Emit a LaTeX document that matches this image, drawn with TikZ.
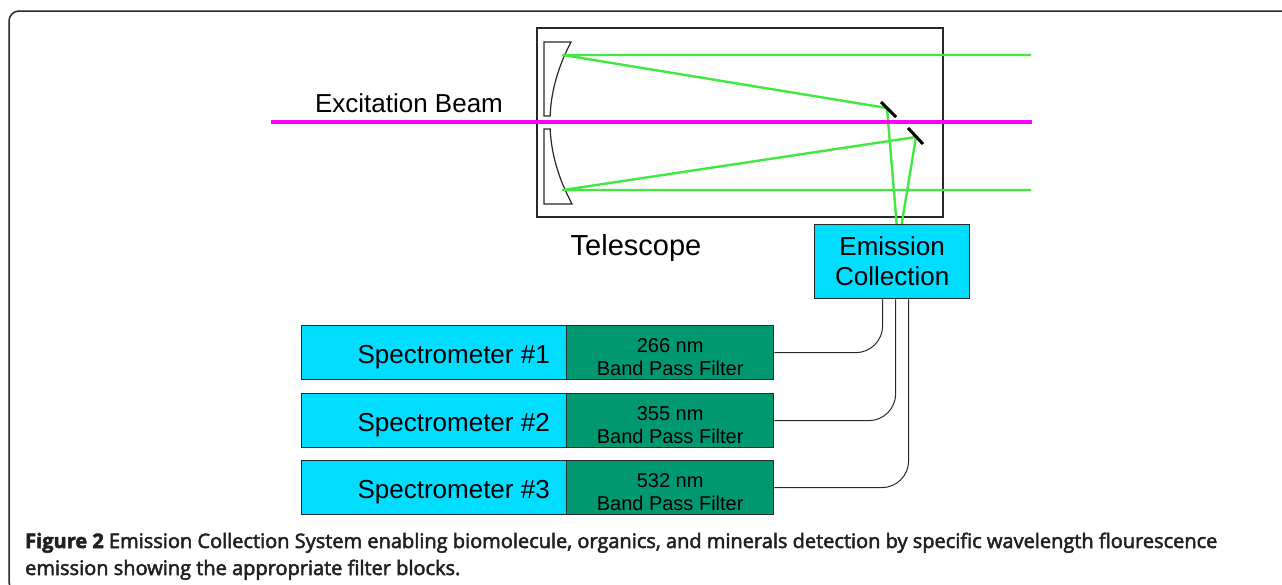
\documentclass[tikz,border=0pt]{standalone}
\usepackage{fontspec}
\setmainfont{Liberation Sans}
\newfontfamily\capfont[FakeStretch=1.0, FakeBold=2.5]{Open Sans}
\usetikzlibrary{positioning}
\definecolor{f2cyan}{RGB}{0,221,255}
\definecolor{f2green}{RGB}{0,152,112}
\definecolor{f2ray}{RGB}{64,232,64}
\definecolor{f2beam}{RGB}{255,0,255}
\definecolor{f2black}{RGB}{40,40,40}
\definecolor{f2text}{RGB}{35,31,32}

\begin{document}
\begin{tikzpicture}[x=1pt, y=-1pt,
  box/.style={draw=f2black, line width=1.3pt, inner sep=0pt, anchor=north west},
  spec/.style={box, fill=f2cyan, minimum width=304pt, minimum height=54pt, text height=21.4pt, text depth=0pt,
    font=\fontsize{26}{30}\selectfont},
  filt/.style={box, fill=f2green, minimum width=207pt, minimum height=54pt, text height=46pt, text depth=0pt,
    align=center, font=\fontsize{20}{23}\selectfont},
  mirror/.style={draw=f2black, line width=1.2pt},
  flat/.style={black, line width=3pt},
  ray/.style={f2ray, line width=2.4pt, line join=round},
  beam/.style={f2beam, line width=4.5pt},
  cable/.style={f2black, line width=1pt, rounded corners=27pt}]
  \useasboundingbox (0,0) rectangle (1282,584);
  \clip (0,0) rectangle (1282,584);

  % Frame
  \draw[f2black, line width=1.5pt, rounded corners=10pt] (1300,592) -- (9,592) -- (9,11) -- (1300,11);

  % Telescope
  \draw[f2black, line width=1.3pt] (537,28) rectangle (943,217);
  \draw[mirror] plot[domain=42:116, samples=30] ({550+0.00328*(\x-122)^2}, \x) -- (544,116) -- (544,42) -- cycle;
  \draw[mirror] plot[domain=129:204, samples=30] ({550+0.00328*(\x-122)^2}, \x) -- (544,204) -- (544,129) -- cycle;

  \node[box, fill=f2cyan, minimum width=155pt, minimum height=74pt, align=center,
        font=\fontsize{26}{30}\selectfont] (emc) at (814,224) {Emission\\Collection};

  \draw[ray] (1031,55) -- (563,55) -- (887,108) -- ([xshift=4.5pt]emc.north);
  \draw[ray] (1031,190) -- (563,190) -- (916,137) -- ([xshift=9.5pt]emc.north);
  \draw[flat] (881,102) -- (896,117);
  \draw[flat] (908,128) -- (923,144);

  \draw[beam] (271,122) -- (1032,122);

  \node[anchor=base, font=\fontsize{26}{30}\selectfont] (exc) at (409,112) {Excitation Beam};
  \node[anchor=base, font=\fontsize{29}{30}\selectfont] (tel) at (636,255) {Telescope};

  % Spectrometers
  \foreach \n/\y/\nm/\dx in {1/325/266/-9.5, 2/393/355/3.5, 3/460/532/16.5} {
    \node[spec] (spec\n) at (301,\y) {Spectrometer \#\n};
    \node[filt] (filt\n) at (566,\y) {\nm{} nm\\Band Pass Filter};
    \draw[cable] ([xshift=\dx pt]emc.south) |- (filt\n.east);
  }

  \node[anchor=base west, align=left, text=f2text, inner sep=0pt,
        font=\capfont\fontsize{20}{27}\selectfont] (cap) at (25,575)
    {\textbf{Figure 2} Emission Collection System enabling biomolecule, organics, and minerals detection by specific wavelength flourescence\\
     emission showing the appropriate filter blocks.};
\end{tikzpicture}
\end{document}
